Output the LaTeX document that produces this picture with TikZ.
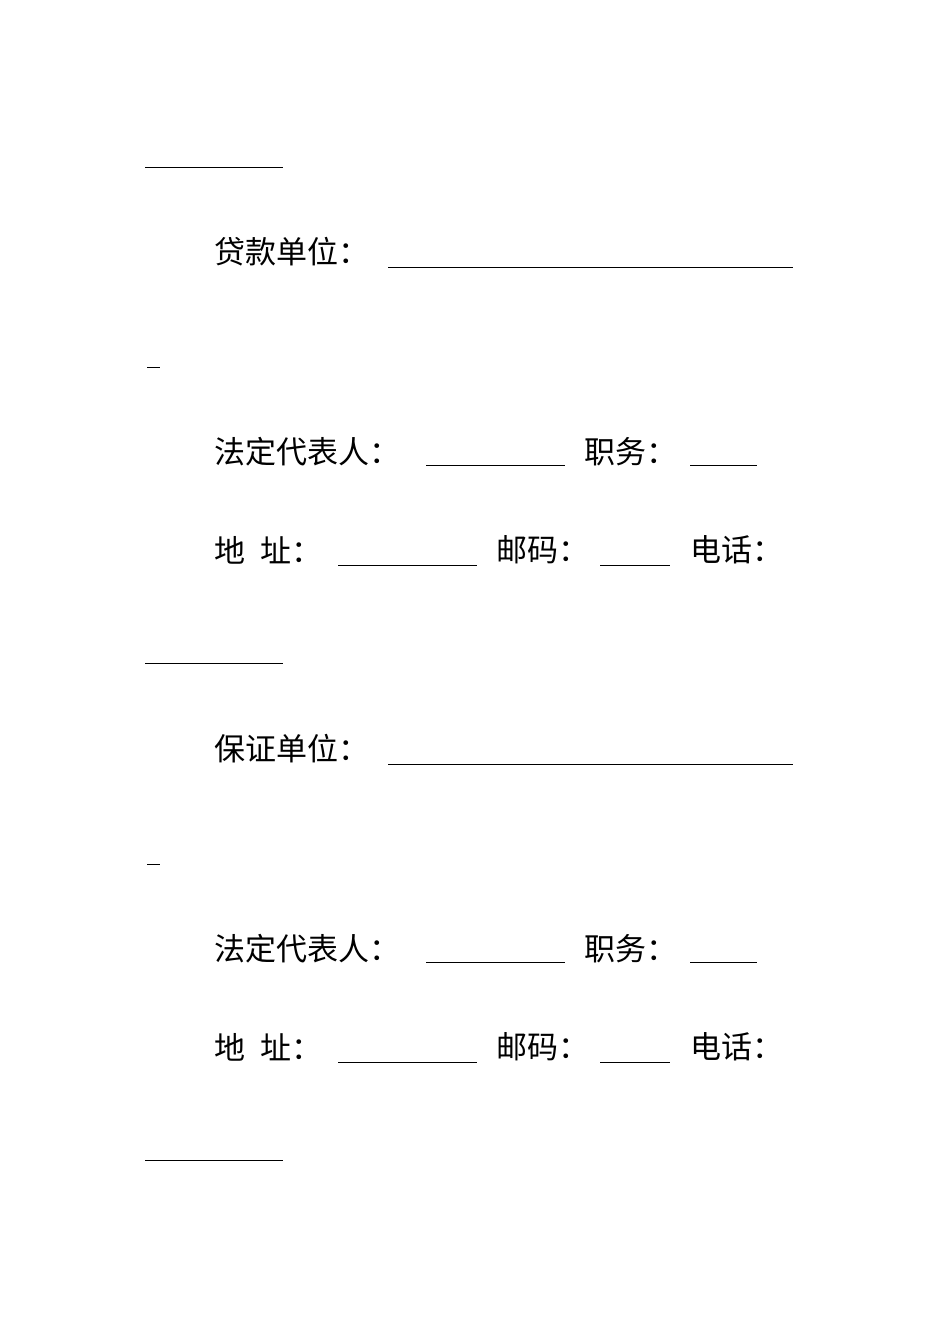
\documentclass[tikz,border=0pt]{standalone}
\usepackage{fontspec}
\newfontfamily\cjk{Noto Sans CJK SC}
\begin{document}
\begin{tikzpicture}[x=1pt,y=-1pt,
  lbl/.style={anchor=west,inner sep=0pt,font=\cjk\fontsize{31}{31}\selectfont},
  blank/.style={line width=1pt,black}]
\useasboundingbox (0,0) rectangle (950,1344);
\draw[blank] (145,167) -- (283,167);
\foreach \o/\a/\n in {0/贷款单位：/a,497/保证单位：/b}{
  \node[lbl] (u\n) at (214,252+\o) {\a};
  \draw[blank] (388,267+\o) -- (793,267+\o);
  \draw[blank] (147,367+\o) -- (160,367+\o);
  \node[lbl] (r\n) at (214,452+\o) {法定代表人：};
  \draw[blank] (426,465+\o) -- (565,465+\o);
  \node[lbl] (z\n) at (584,452+\o) {职务：};
  \draw[blank] (690,465+\o) -- (757,465+\o);
  \node[lbl] (d\n) at (214,550+\o) {地\hspace{0.5em}址：};
  \draw[blank] (338,565+\o) -- (477,565+\o);
  \node[lbl] (y\n) at (496,550+\o) {邮码：};
  \draw[blank] (600,565+\o) -- (670,565+\o);
  \node[lbl] (t\n) at (690,550+\o) {电话：};
  \draw[blank] (145,663+\o) -- (283,663+\o);
}
\end{tikzpicture}
\end{document}
